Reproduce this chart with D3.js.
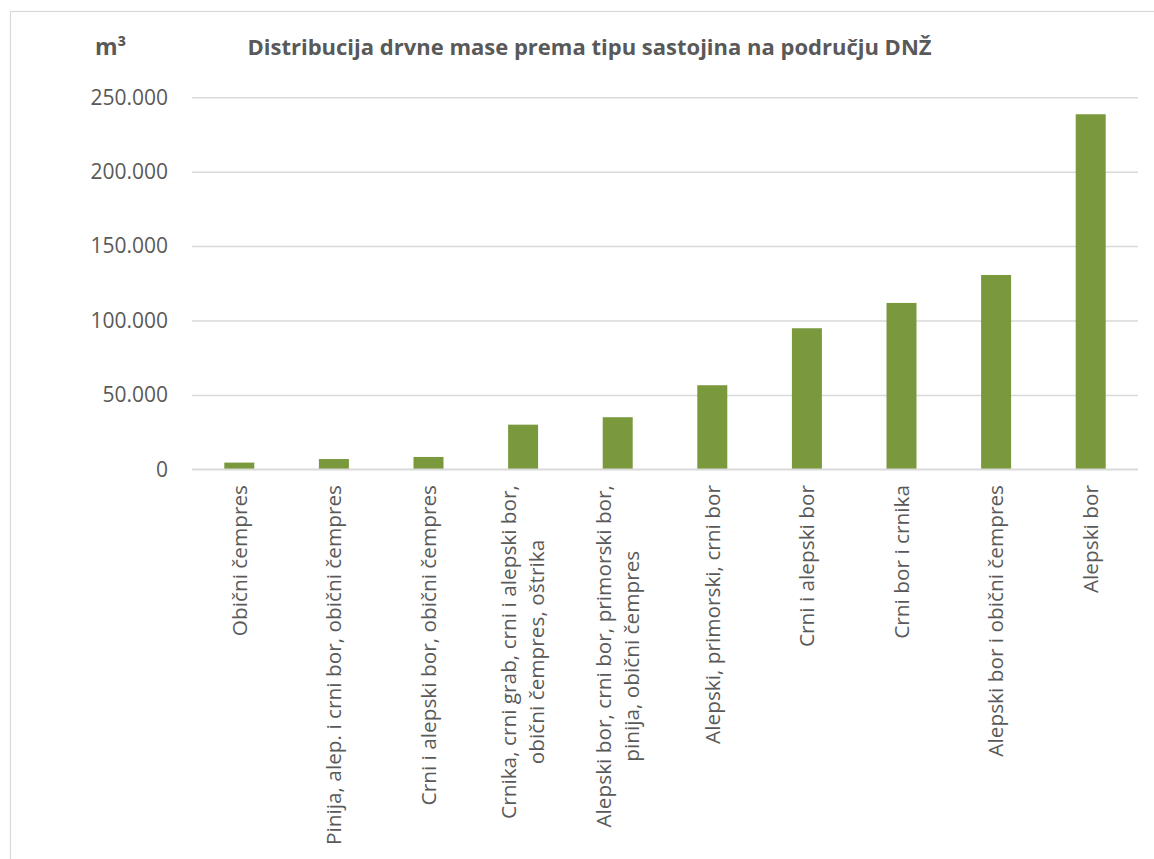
<!DOCTYPE html>
<html>
<head>
<meta charset="utf-8">
<script src="https://cdn.jsdelivr.net/npm/d3@7"></script>
<style>
  html, body { margin: 0; padding: 0; background: #fff; }
  svg { display: block; }
</style>
</head>
<body>
<svg id="chart" width="1154" height="859"></svg>
<script>
// ---- data ----
const categories = [
  ["Obični čempres"],
  ["Pinija, alep. i crni bor, obični čempres"],
  ["Crni i alepski bor, obični čempres"],
  ["Crnika, crni grab, crni i alepski bor,", "obični čempres, oštrika"],
  ["Alepski bor, crni bor, primorski bor,", "pinija, obični čempres"],
  ["Alepski, primorski, crni bor"],
  ["Crni i alepski bor"],
  ["Crni bor i crnika"],
  ["Alepski bor i obični čempres"],
  ["Alepski bor"]
];
const values = [4500, 6900, 8300, 30000, 35000, 56500, 94800, 111800, 130600, 238600];
const yTicks = [0, 50000, 100000, 150000, 200000, 250000];
const titleText = "Distribucija drvne mase prema tipu sastojina na području DNŽ";
const unitText = "m³";

// ---- layout ----
const svg = d3.select("#chart");
const plot = { left: 192, right: 1138, top: 97.3, bottom: 469.3 };
const textColor = "#595959";
const gridColor = "#d9d9d9";
const barColor = "#7a993d";
const font = "'Open Sans', 'DejaVu Sans', sans-serif";

// outer chart border
svg.append("rect")
  .attr("x", 10.5).attr("y", 11.5)
  .attr("width", 1200).attr("height", 900)
  .attr("fill", "none").attr("stroke", gridColor).attr("stroke-width", 1.2);

const x = d3.scaleBand()
  .domain(d3.range(categories.length))
  .range([plot.left, plot.right])
  .paddingInner(0.683).paddingOuter(0.3415);

const y = d3.scaleLinear().domain([0, 250000]).range([plot.bottom, plot.top]);

// gridlines
const yAxis = d3.axisLeft(y)
  .tickValues(yTicks)
  .tickSize(-(plot.right - plot.left))
  .tickPadding(24)
  .tickFormat(d => d3.format(",")(d).replace(/,/g, "."));

const gy = svg.append("g")
  .attr("transform", `translate(${plot.left},0)`)
  .call(yAxis);
gy.select(".domain").remove();
gy.selectAll(".tick line").attr("stroke", gridColor).attr("stroke-width", 1.5);
gy.selectAll(".tick text")
  .attr("fill", textColor)
  .style("font-family", font)
  .style("font-size", "21px");

// bars
svg.append("g").selectAll("rect")
  .data(values)
  .join("rect")
  .attr("x", (d, i) => x(i))
  .attr("width", x.bandwidth())
  .attr("y", d => y(d))
  .attr("height", d => y(0) - y(d))
  .attr("fill", barColor);

// baseline on top of bars
svg.append("line")
  .attr("x1", plot.left).attr("x2", plot.right)
  .attr("y1", y(0)).attr("y2", y(0))
  .attr("stroke", gridColor).attr("stroke-width", 1.5);

// category labels (rotated)
const lineGap = 28;
const labelTop = 485;
const lg = svg.append("g").selectAll("g")
  .data(categories)
  .join("g")
  .attr("transform", (d, i) => `translate(${x(i) + x.bandwidth() / 2},${labelTop}) rotate(-90)`);

lg.each(function (lines) {
  const g = d3.select(this);
  const n = lines.length;
  const texts = g.selectAll("text")
    .data(lines)
    .join("text")
    .attr("fill", textColor)
    .style("font-family", font)
    .style("font-size", "20.8px")
    .attr("text-anchor", "middle")
    .attr("dy", "0.35em")
    .attr("y", (d, k) => (k - (n - 1) / 2) * lineGap)
    .text(d => d);
  let maxW = 0;
  texts.each(function () { maxW = Math.max(maxW, this.getComputedTextLength()); });
  texts.attr("x", -maxW / 2);
});

// title and unit
svg.append("text")
  .attr("x", 589.5).attr("y", 55)
  .attr("text-anchor", "middle")
  .attr("fill", textColor)
  .style("font-family", font)
  .style("font-weight", "bold")
  .style("font-size", "22px")
  .text(titleText);

svg.append("text")
  .attr("x", 95).attr("y", 55)
  .attr("fill", textColor)
  .style("font-family", font)
  .style("font-weight", "bold")
  .style("font-size", "23px")
  .text(unitText);
</script>
</body>
</html>
